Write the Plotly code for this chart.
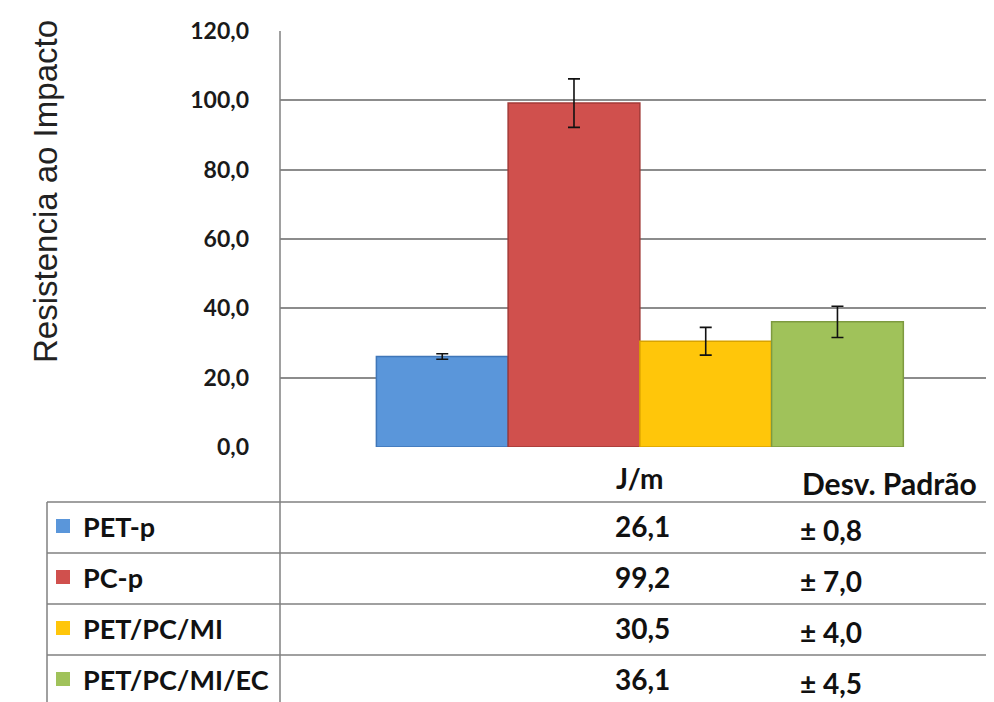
import plotly.graph_objects as go

materials = ["PET-p", "PC-p", "PET/PC/MI", "PET/PC/MI/EC"]
impact = [26.1, 99.2, 30.5, 36.1]
std_dev = [0.8, 7.0, 4.0, 4.5]
colors = ["#5A96DA", "#D0504D", "#FFC60A", "#A0C25A"]
edge_colors = ["#3F76B8", "#A33A37", "#D9A300", "#7E9A40"]
y_ticks = [0, 20, 40, 60, 80, 100, 120]

W, H = 994, 702
OFF = 8  # default page body margin
FW, FH = W - OFF, H - OFF


def px(x):
    return (x - OFF) / FW


def py(y):
    return 1 - (y - OFF) / FH


def fmt(v):
    return f"{v:.1f}".replace(".", ",")


fig = go.Figure()
for name, val, sd, col, edge in zip(materials, impact, std_dev, colors, edge_colors):
    fig.add_trace(go.Bar(
        x=["J/m"], y=[val], name=name,
        marker=dict(color=col, line=dict(color=edge, width=1.5)),
        error_y=dict(type="data", array=[sd], color="#111111", thickness=1.6, width=6),
    ))

tick_font = dict(family="Lato", size=23, color="#1a1a1a", weight="bold")
table_font = dict(family="Lato", size=27, color="#111111", weight="bold")
value_font = dict(family="Lato", size=28, color="#111111", weight="bold")

fig.update_layout(
    width=FW, height=FH, autosize=False,
    margin=dict(l=0, r=0, t=0, b=0, pad=0),
    paper_bgcolor="white", plot_bgcolor="white",
    barmode="group", bargap=0.262, bargroupgap=0,
    showlegend=False,
    separators=",.",
    xaxis=dict(domain=[px(280), 1], showticklabels=False, showgrid=False,
               zeroline=False, range=[-0.504, 0.496], type="category", automargin=False),
    yaxis=dict(domain=[py(447), py(31)], range=[0, 120], tickvals=y_ticks,
               tickformat=".1f", tickfont=tick_font, ticklabelstandoff=30,
               showgrid=True, gridcolor="#8c8c8c", gridwidth=1.5,
               zeroline=False, showline=False, automargin=False),
)

shapes = []
line_col = "#808080"
# axis / table column line
shapes.append(dict(type="line", xref="paper", yref="paper", x0=px(280), x1=px(280),
                   y0=py(31), y1=0, line=dict(color=line_col, width=1.5)))
# table left border
shapes.append(dict(type="line", xref="paper", yref="paper", x0=px(47), x1=px(47),
                   y0=py(502), y1=0, line=dict(color=line_col, width=1.5)))
row_lines = [502, 553, 604, 655]
for yl in row_lines:
    shapes.append(dict(type="line", xref="paper", yref="paper", x0=px(47), x1=1,
                       y0=py(yl), y1=py(yl), line=dict(color=line_col, width=1.5)))


def label(text, x, y, xanchor="center", **kw):
    return dict(text=text, x=px(x), y=py(y), xref="paper", yref="paper",
                xanchor=xanchor, yanchor="middle", showarrow=False, **kw)


annotations = [
    label("Resistencia ao Impacto", 45, 192, textangle=-90,
          font=dict(family="Liberation Sans", size=33, color="#222222")),
    label("J/m", 639, 478, font=value_font),
    label("Desv. Padrão", 800, 483, xanchor="left",
          font=dict(family="Lato", size=30, color="#111111", weight="bold")),
]

row_centers = [526, 577, 628, 679]
for name, val, sd, col, yc in zip(materials, impact, std_dev, colors, row_centers):
    shapes.append(dict(type="rect", xref="paper", yref="paper",
                       x0=px(56), x1=px(70), y0=py(yc + 7), y1=py(yc - 7),
                       fillcolor=col, line=dict(color=col, width=0)))
    annotations.append(label(name, 81, yc, xanchor="left", font=table_font))
    annotations.append(label(fmt(val), 642, yc, font=value_font))
    annotations.append(label("± " + fmt(sd), 798, yc + 4, xanchor="left", font=value_font))

fig.update_layout(shapes=shapes, annotations=annotations)
fig.write_html("out.html")
